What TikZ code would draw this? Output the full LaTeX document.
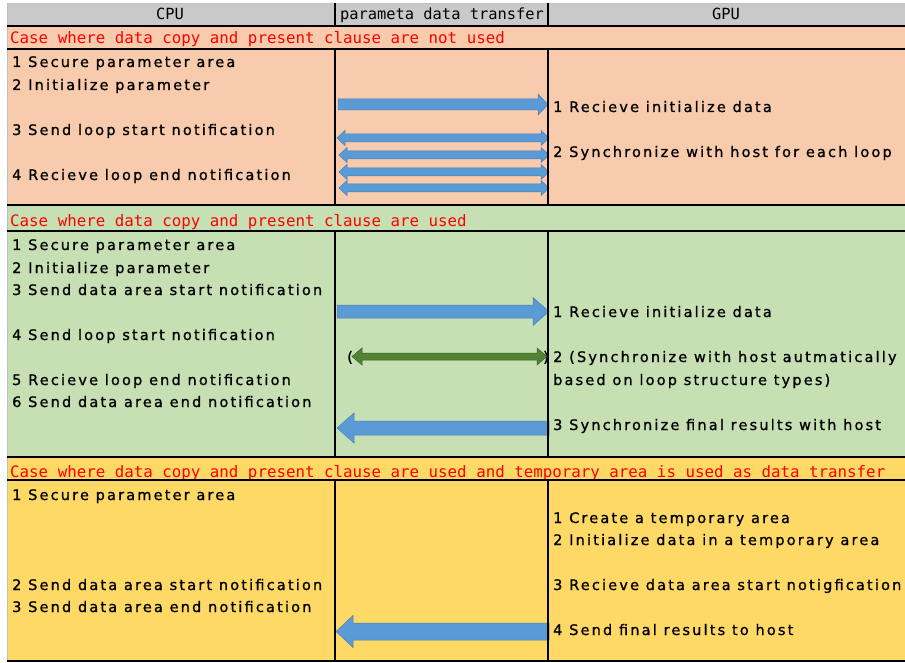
\documentclass[tikz,border=0pt]{standalone}
\usepackage{fontspec}
\newfontfamily\bodyfont[LetterSpace=15,FakeBold=1]{DejaVu Sans}
\newfontfamily\monofont{DejaVu Sans Mono}
\definecolor{hdr}{HTML}{C9C9C9}
\definecolor{peach}{HTML}{F8CBAD}
\definecolor{lgreen}{HTML}{C6E0B4}
\definecolor{lyellow}{HTML}{FFD966}
\definecolor{ablue}{HTML}{5B9BD5}
\definecolor{aedge}{HTML}{4A7EBB}
\definecolor{dgreen}{HTML}{548235}
\definecolor{dgedge}{HTML}{3B5E24}
\tikzset{
  body/.style={anchor=base west, inner sep=0pt, font=\bodyfont\fontsize{14.5}{16}\selectfont},
  ttl/.style={anchor=base west, inner sep=0pt, text=red, font=\monofont\fontsize{15.8}{18}\selectfont},
  hd/.style={anchor=base, inner sep=0pt, font=\monofont\fontsize{15.4}{18}\selectfont},
  rule/.style={line width=2pt, black},
  vrule/.style={line width=1.6pt, black},
  bluearrow/.style={fill=ablue, draw=aedge, line width=0.5pt},
  greenarrow/.style={fill=dgreen, draw=dgedge, line width=0.5pt}
}
% right-pointing block arrow: x1, x2(tip), yc, shaft half, head half, head length, style
\newcommand\rarr[7]{\filldraw[#7] (#1,{#3-#4}) -- ({#2-#6},{#3-#4}) -- ({#2-#6},{#3-#5}) -- (#2,#3) -- ({#2-#6},{#3+#5}) -- ({#2-#6},{#3+#4}) -- (#1,{#3+#4}) -- cycle;}
% left-pointing block arrow: x1(tip), x2, yc, shaft half, head half, head length, style
\newcommand\larr[7]{\filldraw[#7] (#2,{#3-#4}) -- ({#1+#6},{#3-#4}) -- ({#1+#6},{#3-#5}) -- (#1,#3) -- ({#1+#6},{#3+#5}) -- ({#1+#6},{#3+#4}) -- (#2,{#3+#4}) -- cycle;}
% double block arrow
\newcommand\darr[7]{\filldraw[#7] ({#1+#6},{#3-#4}) -- ({#2-#6},{#3-#4}) -- ({#2-#6},{#3-#5}) -- (#2,#3) -- ({#2-#6},{#3+#5}) -- ({#2-#6},{#3+#4}) -- ({#1+#6},{#3+#4}) -- ({#1+#6},{#3+#5}) -- (#1,#3) -- ({#1+#6},{#3-#5}) -- cycle;}
\begin{document}
\begin{tikzpicture}[x=1pt,y=-1pt]
\useasboundingbox (0,0) rectangle (905,663);
\fill[white] (0,0) rectangle (905,663);
% backgrounds
\fill[hdr] (7,3) rectangle (905,26);
\fill[peach] (7,26) rectangle (905,205);
\fill[lgreen] (7,205) rectangle (905,457);
\fill[lyellow] (7,457) rectangle (905,661);
\draw[gray!50, line width=0.8pt] (905,3) -- (7,3) -- (7,661);
% header text
\node[hd] (hcpu) at (170,20) {CPU};
\node[hd] (htr) at (442,20) {parameta data transfer};
\node[hd] (hgpu) at (726,20) {GPU};
% titles
\node[ttl] (t1) at (10,44) {Case where data copy and present clause are not used};
\node[ttl] (t2) at (10,226) {Case where data copy and present clause are used};
\node[ttl] (t3) at (10,477) {Case where data copy and present clause are used and temporary area is used as data transfer};
% case 1
\node[body] (a1) at (12,67) {1 Secure parameter area};
\node[body] (a2) at (12,90) {2 Initialize parameter};
\node[body] (a3) at (12,135) {3 Send loop start notification};
\node[body] (a4) at (12,180) {4 Recieve loop end notification};
\node[body] (ag1) at (553,112) {1 Recieve initialize data};
\node[body] (ag2) at (553,157) {2 Synchronize with host for each loop};
% case 2
\node[body] (b1) at (12,250) {1 Secure parameter area};
\node[body] (b2) at (12,273) {2 Initialize parameter};
\node[body] (b3) at (12,295) {3 Send data area start notification};
\node[body] (b4) at (12,340) {4 Send loop start notification};
\node[body] (b5) at (12,385) {5 Recieve loop end notification};
\node[body] (b6) at (12,407) {6 Send data area end notification};
\node[body] (bg1) at (553,317) {1 Recieve initialize data};
\node[body] (bg2) at (553,362) {2 (Synchronize with host autmatically};
\node[body] (bg3) at (553,385) {based on loop structure types)};
\node[body] (bg4) at (553,430) {3 Synchronize final results with host};
% case 3
\node[body] (c1) at (12,500) {1 Secure parameter area};
\node[body] (c2) at (12,590) {2 Send data area start notification};
\node[body] (c3) at (12,612) {3 Send data area end notification};
\node[body] (cg1) at (553,523) {1 Create a temporary area};
\node[body] (cg2) at (553,545) {2 Initialize data in a temporary area};
\node[body] (cg3) at (553,590) {3 Recieve data area start notigfication};
\node[body] (cg4) at (553,635) {4 Send final results to host};
% parentheses around green arrow
\node[body] (pl) at (347,362) {(};
\node[body] (pr) at (543,362) {)};
% arrows case 1
\rarr{338}{548}{104.5}{5.5}{10.5}{10}{bluearrow}
\darr{337}{549}{138}{4}{7.5}{8}{bluearrow}
\darr{339}{549}{155}{4}{7.5}{8}{bluearrow}
\darr{339}{549}{172}{4}{7.5}{8}{bluearrow}
\darr{339}{549}{188}{4}{7.5}{8}{bluearrow}
% arrows case 2
\rarr{337}{549}{311.5}{6.5}{14}{16}{bluearrow}
\darr{352}{547}{356.5}{3.5}{8.5}{10}{greenarrow}
\larr{337}{549}{428}{7}{15}{17}{bluearrow}
% arrow case 3
\larr{336}{549}{631.5}{8.5}{16}{17}{bluearrow}
% rules
\foreach \yy in {26,49,205,231,457,480,661} {\draw[rule] (7,\yy) -- (905,\yy);}
\foreach \xx in {335,548} {
  \draw[vrule] (\xx,3) -- (\xx,26);
  \draw[vrule] (\xx,49) -- (\xx,205);
  \draw[vrule] (\xx,231) -- (\xx,457);
  \draw[vrule] (\xx,480) -- (\xx,661);
}
\end{tikzpicture}
\end{document}
